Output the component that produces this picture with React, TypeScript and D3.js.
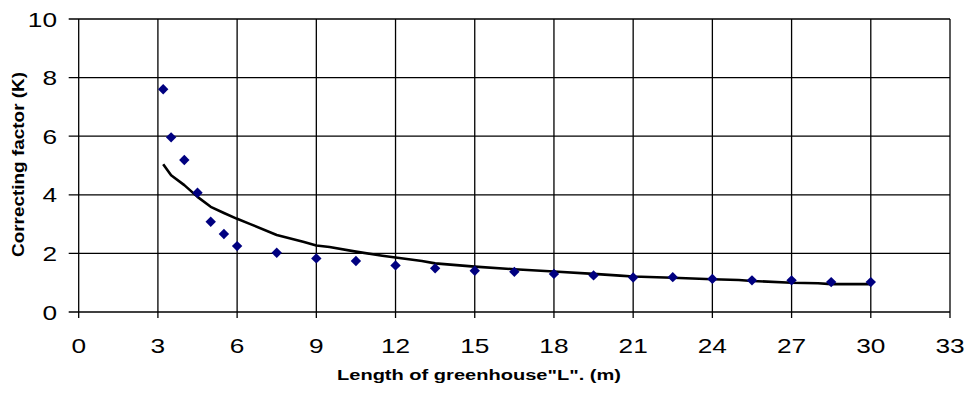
import React from "react";
import * as d3 from "d3";

const pointX = [3.2, 3.5, 4, 4.5, 5, 5.5, 6, 7.5, 9, 10.5, 12, 13.5, 15, 16.5, 18, 19.5, 21, 22.5, 24, 25.5, 27, 28.5, 30];
const pointY = [7.6, 5.96, 5.19, 4.07, 3.08, 2.66, 2.25, 2.02, 1.83, 1.74, 1.59, 1.49, 1.41, 1.37, 1.3, 1.25, 1.18, 1.19, 1.13, 1.08, 1.08, 1.02, 1.02];

const curveX = [3.2, 3.5, 4, 4.5, 5, 5.5, 6, 6.5, 7.5, 8.5, 9, 9.5, 10.5, 11.5, 12, 13, 13.5, 15, 16.5, 18, 19.5, 20.5, 21, 22.5, 24, 25, 25.5, 27, 28, 28.5, 30];
const curveY = [5.04, 4.67, 4.33, 3.93, 3.59, 3.38, 3.18, 3.0, 2.63, 2.4, 2.27, 2.22, 2.06, 1.92, 1.86, 1.74, 1.66, 1.55, 1.46, 1.38, 1.3, 1.24, 1.21, 1.17, 1.12, 1.09, 1.06, 1.0, 0.98, 0.95, 0.95];

const xTicks = [0, 3, 6, 9, 12, 15, 18, 21, 24, 27, 30, 33];
const yTicks = [0, 2, 4, 6, 8, 10];

const xTitle = 'Length of greenhouse"L". (m)';
const yTitle = "Correcting factor (K)";

export default function App() {
  const x = d3.scaleLinear().domain([0, 33]).range([78.7, 950]);
  const y = d3.scaleLinear().domain([0, 10]).range([312, 19]);
  const line = d3
    .line<number>()
    .x((_, i) => x(curveX[i]))
    .y((d) => y(d));
  const font = "Arial, 'Liberation Sans', sans-serif";
  const sx = 1.25;
  return (
    <svg
      width={970}
      height={406}
      style={{ position: "absolute", left: 0, top: 0, background: "#fff" }}
    >
      <rect x={0} y={0} width={970} height={406} fill="#fff" />
      {/* grid */}
      {xTicks.map((t) => (
        <line key={"gx" + t} x1={x(t)} x2={x(t)} y1={y(10)} y2={y(0) + 6} stroke="#000" strokeWidth={1.3} />
      ))}
      {yTicks.map((t) => (
        <line key={"gy" + t} x1={x(0) - 10} x2={x(33)} y1={y(t)} y2={y(t)} stroke="#000" strokeWidth={1.3} />
      ))}
      {/* tick labels */}
      {yTicks.map((t) => (
        <text
          key={"ly" + t}
          transform={`translate(57,${y(t) + 7.6}) scale(${sx},1)`}
          textAnchor="end"
          fontFamily={font}
          fontSize={21}
          fill="#000"
        >
          {t}
        </text>
      ))}
      {xTicks.map((t) => (
        <text
          key={"lx" + t}
          transform={`translate(${x(t)},352.5) scale(${sx},1)`}
          textAnchor="middle"
          fontFamily={font}
          fontSize={21}
          fill="#000"
        >
          {t}
        </text>
      ))}
      {/* curve */}
      <path d={line(curveY) || ""} fill="none" stroke="#000" strokeWidth={2.6} strokeLinejoin="round" />
      {/* points */}
      {pointX.map((px, i) => {
        const cx = x(px);
        const cy = y(pointY[i]);
        const r = 5.2;
        return (
          <path
            key={"p" + i}
            d={`M${cx},${cy - r}L${cx + r},${cy}L${cx},${cy + r}L${cx - r},${cy}Z`}
            fill="#000080"
          />
        );
      })}
      {/* titles */}
      <text
        x={337}
        y={380}
        fontFamily={font}
        fontSize={14.5}
        fontWeight="bold"
        textLength={284}
        lengthAdjust="spacingAndGlyphs"
        fill="#000"
      >
        {xTitle}
      </text>
      <text
        transform={`translate(24,164.5) rotate(-90) scale(1,1.2)`}
        textAnchor="middle"
        fontFamily={font}
        fontSize={13.5}
        fontWeight="bold"
        textLength={185}
        lengthAdjust="spacingAndGlyphs"
        fill="#000"
      >
        {yTitle}
      </text>
    </svg>
  );
}
